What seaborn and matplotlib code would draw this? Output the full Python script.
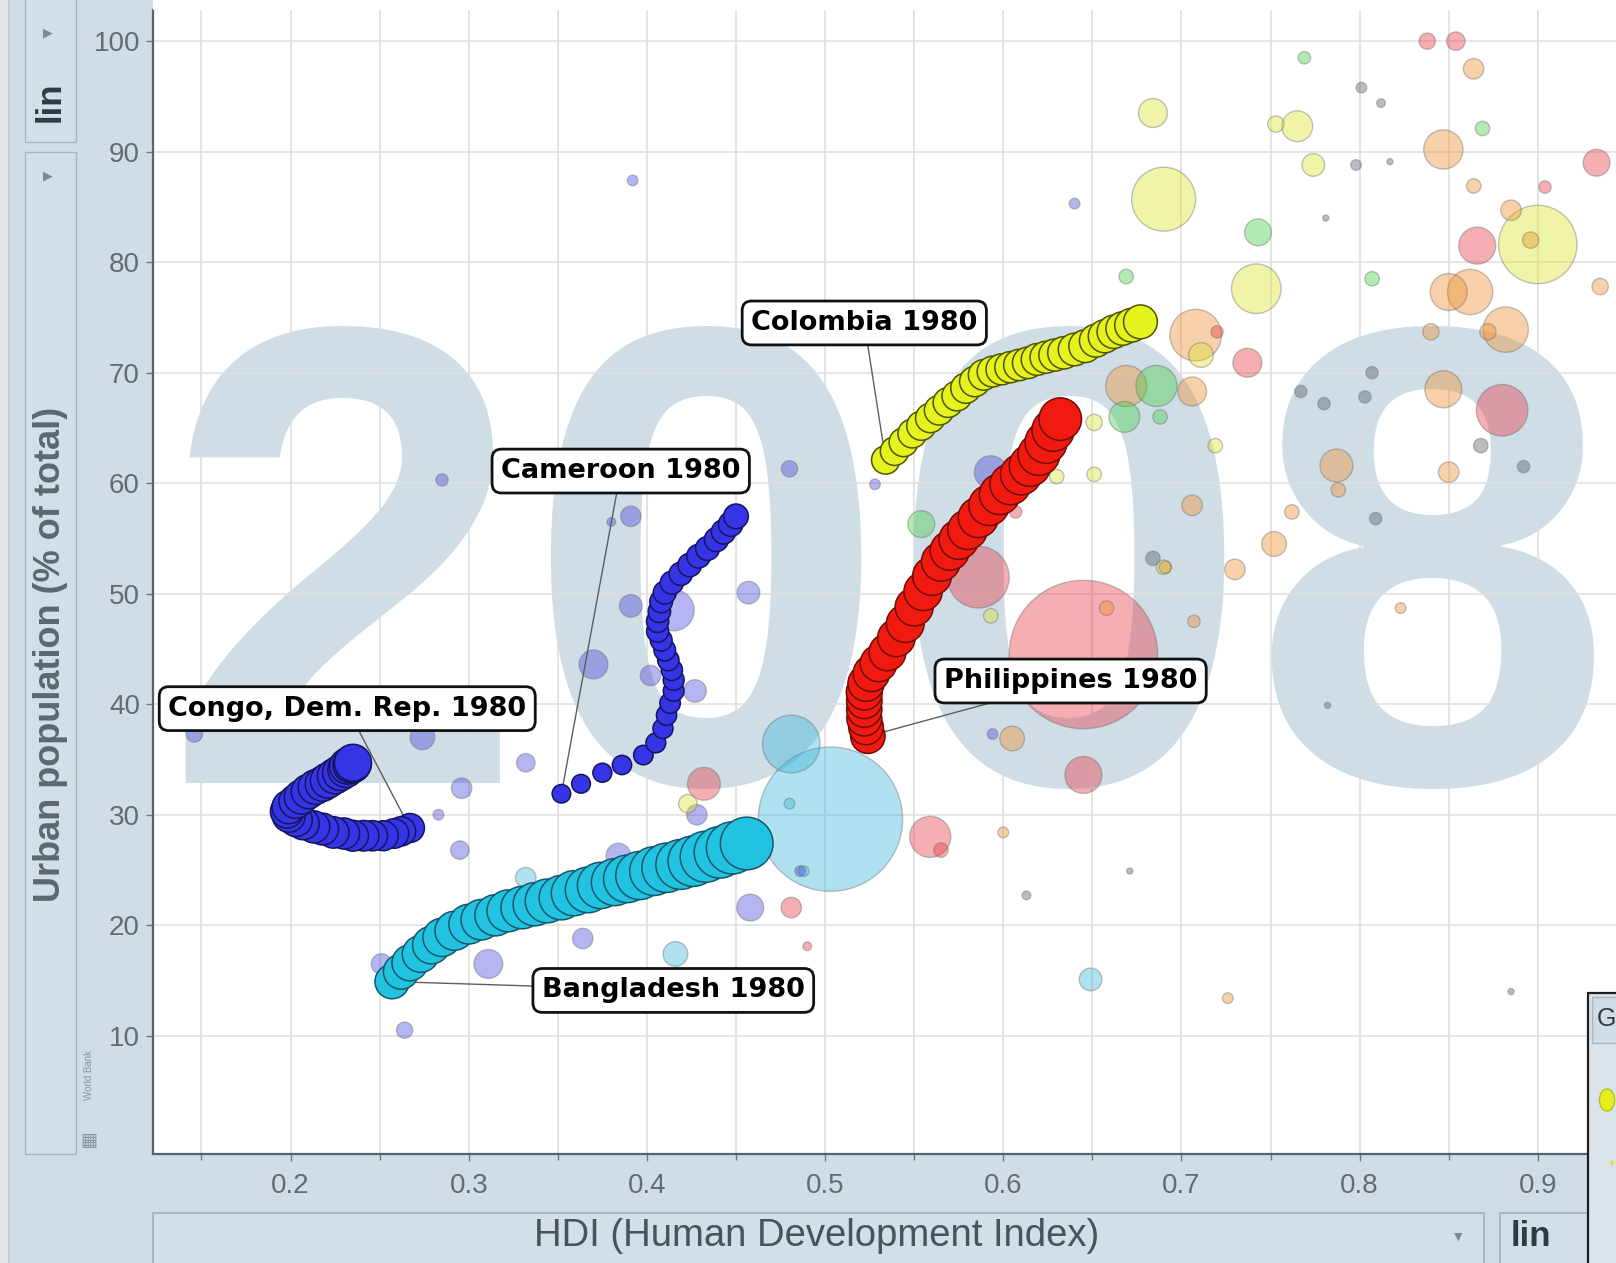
import matplotlib
matplotlib.use("Agg")
import matplotlib.pyplot as plt
import pandas as pd
import seaborn as sns
from matplotlib.patches import Rectangle, Ellipse
from matplotlib.transforms import Affine2D
from matplotlib.ticker import MultipleLocator, FormatStrFormatter

# ---------------------------------------------------------------- data
# Country trails 1980-2008: HDI, urban population share, population (millions)
bgd_hdi = [0.257, 0.262, 0.267, 0.273, 0.279, 0.285, 0.292, 0.300, 0.307, 0.315,
           0.322, 0.330, 0.337, 0.344, 0.352, 0.359, 0.367, 0.374, 0.382, 0.389,
           0.396, 0.404, 0.411, 0.419, 0.426, 0.433, 0.441, 0.448, 0.456]
bgd_urban = [14.9, 15.8, 16.6, 17.4, 18.2, 18.9, 19.5, 20.1, 20.5, 20.9,
             21.3, 21.6, 21.9, 22.2, 22.5, 22.9, 23.2, 23.6, 23.9, 24.2,
             24.5, 24.9, 25.2, 25.5, 25.8, 26.2, 26.6, 27.0, 27.4]
bgd_pop = [62, 65, 68, 71, 74, 77, 80, 83, 86, 89, 92, 95, 98, 101, 104, 107,
           110, 113, 116, 119, 122, 125, 128, 131, 134, 137, 140, 143, 146]

cod_hdi = [0.267, 0.262, 0.258, 0.252, 0.246, 0.241, 0.235, 0.230, 0.224, 0.218,
           0.213, 0.207, 0.203, 0.199, 0.198, 0.199, 0.203, 0.206, 0.210, 0.214,
           0.218, 0.221, 0.225, 0.228, 0.231, 0.232, 0.234, 0.235, 0.235]
cod_urban = [28.8, 28.5, 28.3, 28.1, 28.1, 28.1, 28.1, 28.3, 28.4, 28.7,
             28.9, 29.2, 29.5, 29.9, 30.3, 30.7, 31.2, 31.6, 32.1, 32.5,
             32.8, 33.1, 33.5, 33.8, 34.1, 34.4, 34.5, 34.6, 34.7]
cod_pop = [44, 45, 46, 47, 48, 49, 50, 51, 52, 53, 54, 55, 56, 57, 58, 59,
           60, 61, 62, 63, 64, 65, 66, 67, 68, 69, 70, 71, 72]

cmr_hdi = [0.352, 0.363, 0.375, 0.386, 0.398, 0.405, 0.409, 0.411, 0.413, 0.415,
           0.415, 0.414, 0.412, 0.410, 0.408, 0.406, 0.406, 0.407, 0.408, 0.410,
           0.414, 0.419, 0.424, 0.429, 0.434, 0.439, 0.443, 0.447, 0.450]
cmr_urban = [31.9, 32.8, 33.8, 34.5, 35.4, 36.5, 37.8, 39.0, 40.1, 41.2,
             42.2, 43.1, 44.0, 44.9, 45.8, 46.6, 47.5, 48.4, 49.3, 50.1,
             51.0, 51.8, 52.6, 53.4, 54.1, 54.9, 55.6, 56.3, 57.0]
cmr_pop = [18, 18.5, 19, 19.5, 20, 20.5, 21, 21.5, 22, 22.5, 23, 23.5,
           24, 24.5, 25, 25.5, 26, 26.5, 27, 27.5, 28, 28.5, 29, 29.5,
           30, 30.5, 31, 31.5, 32]

col_hdi = [0.534, 0.539, 0.544, 0.549, 0.554, 0.559, 0.564, 0.569, 0.574, 0.579,
           0.584, 0.589, 0.594, 0.599, 0.604, 0.609, 0.614, 0.619, 0.624, 0.629,
           0.634, 0.640, 0.646, 0.652, 0.657, 0.662, 0.667, 0.672, 0.677]
col_urban = [62.1, 62.9, 63.7, 64.5, 65.2, 65.9, 66.6, 67.3, 67.9, 68.6,
             69.2, 69.8, 70.1, 70.3, 70.5, 70.7, 70.9, 71.2, 71.4, 71.6,
             71.8, 72.1, 72.4, 72.9, 73.3, 73.7, 74.0, 74.3, 74.6]
col_pop = [42, 42.7, 43.3, 44, 44.6, 45.3, 45.9, 46.6, 47.2, 47.9, 48.5, 49.2,
           49.8, 50.5, 51.1, 51.8, 52.4, 53.1, 53.7, 54.4, 55, 55.7, 56.3, 57,
           57.6, 58.3, 58.9, 59.6, 60.2]

phl_hdi = [0.524, 0.523, 0.522, 0.522, 0.522, 0.522, 0.523, 0.526, 0.530, 0.535,
           0.540, 0.545, 0.550, 0.555, 0.560, 0.565, 0.570, 0.575, 0.580, 0.586,
           0.592, 0.598, 0.604, 0.610, 0.615, 0.620, 0.624, 0.628, 0.632]
phl_urban = [37.1, 37.9, 38.7, 39.5, 40.3, 41.1, 41.9, 42.8, 43.7, 44.7,
             46.0, 47.3, 48.8, 50.2, 51.6, 52.9, 53.9, 54.9, 55.8, 56.9,
             58.0, 59.0, 59.9, 60.8, 61.6, 62.6, 63.7, 64.8, 65.8]
phl_pop = [62, 63, 64, 65, 66, 68, 69, 70, 71, 72, 74, 75, 76, 77, 79, 80,
           81, 82, 83, 85, 86, 87, 88, 89, 91, 92, 93, 94, 95]

# Other countries, 2008
bg_hdi = [
    # South Asia
    0.503, 0.481, 0.649, 0.416, 0.332, 0.480, 0.488,
    # Sub-Saharan Africa
    0.285, 0.392, 0.640, 0.480, 0.391, 0.380, 0.457, 0.391, 0.415, 0.370,
    0.402, 0.427, 0.332, 0.296, 0.274, 0.146, 0.295, 0.283, 0.364, 0.311,
    0.264, 0.251, 0.458, 0.384, 0.428, 0.593, 0.594, 0.486, 0.528,
    # East Asia & Pacific
    0.645, 0.586, 0.645, 0.559, 0.432, 0.481, 0.490, 0.565, 0.737, 0.880,
    0.866, 0.933, 0.838, 0.854, 0.904, 0.607, 0.720,
    # America
    0.900, 0.690, 0.684, 0.765, 0.753, 0.774, 0.742, 0.711, 0.651, 0.630,
    0.719, 0.593, 0.423, 0.690, 0.651,
    # Middle East & North Africa
    0.686, 0.668, 0.688, 0.743, 0.807, 0.869, 0.769, 0.669, 0.554,
    # Europe & Central Asia
    0.708, 0.847, 0.864, 0.885, 0.864, 0.862, 0.850, 0.882, 0.847, 0.872,
    0.840, 0.787, 0.788, 0.752, 0.730, 0.706, 0.669, 0.706, 0.691, 0.707,
    0.823, 0.850, 0.896, 0.762, 0.935, 0.605, 0.658, 0.726, 0.600,
    # small, unclassified
    0.809, 0.803, 0.780, 0.767, 0.807, 0.798, 0.801, 0.812, 0.817, 0.781,
    0.868, 0.892, 0.885, 0.671, 0.613, 0.782, 0.684,
]
bg_urban = [
    29.6, 36.4, 15.1, 17.4, 24.3, 31.0, 24.9,
    60.3, 87.4, 85.3, 61.3, 57.0, 56.5, 50.1, 48.9, 48.5, 43.6,
    42.6, 41.2, 34.7, 32.4, 37.0, 37.3, 26.8, 30.0, 18.8, 16.5,
    10.5, 16.5, 21.6, 26.3, 30.0, 61.0, 37.3, 24.9, 59.9,
    44.5, 51.5, 33.6, 28.0, 32.8, 21.6, 18.1, 26.8, 70.9, 66.6,
    81.5, 89.0, 100.0, 100.0, 86.8, 57.4, 73.7,
    81.6, 85.7, 93.5, 92.3, 92.5, 88.8, 77.6, 71.6, 60.8, 60.6,
    63.4, 48.0, 31.0, 52.4, 65.5,
    68.8, 66.0, 66.0, 82.7, 78.5, 92.1, 98.5, 78.7, 56.3,
    73.4, 90.2, 97.5, 84.7, 86.9, 77.3, 77.3, 73.9, 68.5, 73.7,
    73.7, 61.6, 59.4, 54.5, 52.2, 58.0, 68.8, 68.3, 52.4, 47.5,
    48.7, 61.0, 82.0, 57.4, 77.8, 36.9, 48.7, 13.4, 28.4,
    56.8, 67.8, 67.2, 68.3, 70.0, 88.8, 95.8, 94.4, 89.1, 84.0,
    63.4, 61.5, 14.0, 24.9, 22.7, 39.9, 53.2,
]
bg_pop = [
    1095, 175, 27, 32, 22, 6, 6,
    8, 6, 6, 14, 22, 4, 27, 27, 89, 44,
    22, 27, 18, 22, 32, 14, 18, 6, 22, 44,
    14, 22, 38, 32, 22, 57, 6, 6, 6,
    1159, 201, 72, 89, 57, 22, 4, 11, 44, 140,
    72, 38, 14, 18, 8, 8, 8,
    323, 215, 44, 50, 14, 27, 129, 32, 11, 11,
    11, 11, 18, 11, 14,
    89, 50, 11, 38, 11, 11, 8, 11, 38,
    140, 81, 22, 22, 11, 108, 72, 108, 72, 14,
    14, 57, 11, 32, 22, 22, 89, 44, 8, 8,
    6, 22, 14, 11, 14, 32, 11, 6, 6,
    8, 8, 8, 8, 8, 6, 6, 4, 2, 2,
    11, 8, 2, 2, 4, 2, 11,
]
bg_region = (["South Asia"] * 7 + ["Sub-Saharan Africa"] * 29
             + ["East Asia & Pacific"] * 17 + ["America"] * 15
             + ["Middle East & North Africa"] * 9
             + ["Europe & Central Asia"] * 29 + ["Other"] * 17)

region_colors = {
    "South Asia": "#37b4da",
    "Sub-Saharan Africa": "#4646dc",
    "East Asia & Pacific": "#e63743",
    "America": "#d8e42a",
    "Middle East & North Africa": "#44cd44",
    "Europe & Central Asia": "#ee8e2b",
    "Other": "#55596a",
}

label_text = ["Colombia 1980", "Cameroon 1980", "Congo, Dem. Rep. 1980",
              "Philippines 1980", "Bangladesh 1980"]
label_hdi = [0.522, 0.3853, 0.2318, 0.6378, 0.4148]
label_urban = [74.5, 61.1, 39.6, 42.1, 14.1]

x_ticks = [0.2, 0.3, 0.4, 0.5, 0.6, 0.7, 0.8, 0.9]
y_ticks = [10, 20, 30, 40, 50, 60, 70, 80, 90, 100]

# ---------------------------------------------------------------- figure
sns.set_theme(style="white")
plt.rcParams["font.family"] = ["Liberation Sans", "DejaVu Sans"]

PANEL = "#d0dde6"
W, H = 1616, 1263
fig = plt.figure(figsize=(W / 100, H / 100), dpi=100, facecolor=PANEL)
px = Affine2D().scale(1 / W, -1 / H).translate(0, 1) + fig.transFigure

ax_left, ax_bottom, ax_top = 152.5, 1154, 10
ax = fig.add_axes([ax_left / W, (H - ax_bottom) / H,
                   (W - ax_left) / W, (ax_bottom - ax_top) / H])
ax.set_facecolor("white")
ax.set_xlim(0.1225, 0.9439)
ax.set_ylim(-0.7, 102.82)

for side in ("top", "right"):
    ax.spines[side].set_visible(False)
for side in ("left", "bottom"):
    ax.spines[side].set_color("#56636c")
    ax.spines[side].set_linewidth(1.6)

ax.set_xticks(x_ticks)
ax.xaxis.set_minor_locator(MultipleLocator(0.05))
ax.xaxis.set_major_formatter(FormatStrFormatter("%.1f"))
ax.set_yticks(y_ticks)
ax.tick_params(axis="both", which="both", bottom=True, left=True,
               direction="out", color="#6d777e")
ax.tick_params(axis="both", which="major", labelsize=20,
               labelcolor="#666b70", length=5, width=1)
ax.tick_params(axis="x", which="major", pad=9)
ax.tick_params(axis="y", which="major", pad=4)
ax.tick_params(axis="x", which="minor", length=4, width=1)

ax.set_axisbelow(True)
ax.grid(True, axis="x", which="both", color="#dcdcdc", lw=1.1)
ax.grid(True, axis="y", which="major", color="#e3dede", lw=1.1)

# year watermark
ax.text(0.5358, 32.87, "2008", fontsize=470, fontweight="bold",
        family=["Liberation Sans"], color="#cfdde6", ha="center",
        va="baseline", zorder=0.2)

# background bubbles
SIZE_KW = dict(size="pop", sizes=(0, 13800), size_norm=(0, 1400))
bg = pd.DataFrame({"hdi": bg_hdi, "urban": bg_urban, "pop": bg_pop,
                   "region": bg_region}).sort_values("pop", ascending=False)
sns.scatterplot(data=bg, x="hdi", y="urban", hue="region",
                palette=region_colors, alpha=0.4, edgecolor="#6a6a6a",
                linewidth=1, legend=False, ax=ax, zorder=2, **SIZE_KW)

# trails
trails = [
    ("Colombia", col_hdi, col_urban, col_pop, "#e4f21d", "#4f5400"),
    ("Philippines", phl_hdi, phl_urban, phl_pop, "#f11a10", "#6e0c06"),
    ("Cameroon", cmr_hdi, cmr_urban, cmr_pop, "#3535e6", "#14145e"),
    ("Congo, Dem. Rep.", cod_hdi, cod_urban, cod_pop, "#3535e6", "#14145e"),
    ("Bangladesh", bgd_hdi, bgd_urban, bgd_pop, "#22c3e1", "#17566a"),
]
first_points = {}
for name, hx, uy, pp, fc, ec in trails:
    df = pd.DataFrame({"hdi": hx, "urban": uy, "pop": pp})
    sns.scatterplot(data=df, x="hdi", y="urban", color=fc, edgecolor=ec,
                    linewidth=1.1, legend=False, ax=ax, zorder=4, **SIZE_KW)
    first_points[name] = (hx[0], uy[0])

ax.set_xlabel("")
ax.set_ylabel("")

# 1980 labels with leader lines
label_owner = ["Colombia", "Cameroon", "Congo, Dem. Rep.", "Philippines",
               "Bangladesh"]
for txt, owner, lx, ly in zip(label_text, label_owner, label_hdi, label_urban):
    x0, y0 = first_points[owner]
    ax.plot([lx, x0], [ly, y0], color="#5e5e5e", lw=1, zorder=3)
    ax.text(lx, ly, txt, ha="center", va="center", fontsize=19.5,
            fontweight="bold", family=["DejaVu Sans"], color="black",
            zorder=6,
            bbox=dict(boxstyle="round,pad=0.33,rounding_size=0.35",
                      fc="white", ec="#111111", lw=2))

# ---------------------------------------------------------------- chrome
def rect(x, y, w, h, fc, ec="none", lw=1.0):
    fig.add_artist(Rectangle((x, y), w, h, transform=px, fc=fc, ec=ec, lw=lw))


def label(x, y, s, **kw):
    fig.text(x, y, s, transform=px, **kw)


rect(ax_left, 0, W - ax_left, ax_top, "white")

# left edge strip
rect(0, 0, 8, H, "#dfe5e8")
rect(8, 0, 2, H, "#c2ccd2")

# vertical axis controls
BOX = "#d2dfe7"
BOX_EDGE = "#a7b5be"
rect(25, -5, 51, 147, BOX, BOX_EDGE, 1)
label(48, 33, "\u25b6", fontsize=9, color="#7c8a93", ha="center",
      va="center", family=["DejaVu Sans"])
label(50, 102, "lin", fontsize=25, fontweight="bold", color="#2f3a42",
      rotation=90, ha="center", va="center")
rect(25, 152, 51, 1002, BOX, BOX_EDGE, 1)
label(48, 176, "\u25b6", fontsize=9, color="#7c8a93", ha="center",
      va="center", family=["DejaVu Sans"])
label(51, 654, "Urban population (% of total)", fontsize=26,
      fontweight="bold", color="#5b6870", rotation=90, ha="center",
      va="center")
label(89, 1075, "World Bank", fontsize=7, color="#89939a", rotation=90,
      ha="center", va="center")
label(89, 1141, "\u25a6", fontsize=13, color="#89939a", ha="center",
      va="center", family=["DejaVu Sans"])

# horizontal axis controls
rect(ax_left, 1213, 1331, 60, BOX, "#a2b0b9", 1.2)
label(817, 1236, "HDI (Human Development Index)", fontsize=27.5,
      color="#48535b", ha="center", va="center")
label(1458, 1237, "\u25bc", fontsize=8, color="#7c8a93", ha="center",
      va="center", family=["DejaVu Sans"])
rect(1500, 1213, 88, 60, BOX, "#a2b0b9", 1.2)
label(1531, 1236, "lin", fontsize=25, fontweight="bold", color="#2f3a42",
      ha="center", va="center")

# country selector panel
rect(1588, 993, 40, 280, "#dae4ea", "#1e1e1e", 1.6)
rect(1592, 997, 40, 46, "#d1dde4", BOX_EDGE, 1)
label(1597, 1019, "G", fontsize=18, color="#2f3a42", ha="left",
      va="center")
fig.add_artist(Ellipse((1607, 1100), 15, 22, transform=px, fc="#e6ef1f",
                       ec="#b9c212", lw=1))
fig.add_artist(Ellipse((1612, 1163), 3, 5, transform=px, fc="#d9e21a",
                       ec="none"))

fig.savefig("out.png", dpi=100, facecolor=PANEL)
